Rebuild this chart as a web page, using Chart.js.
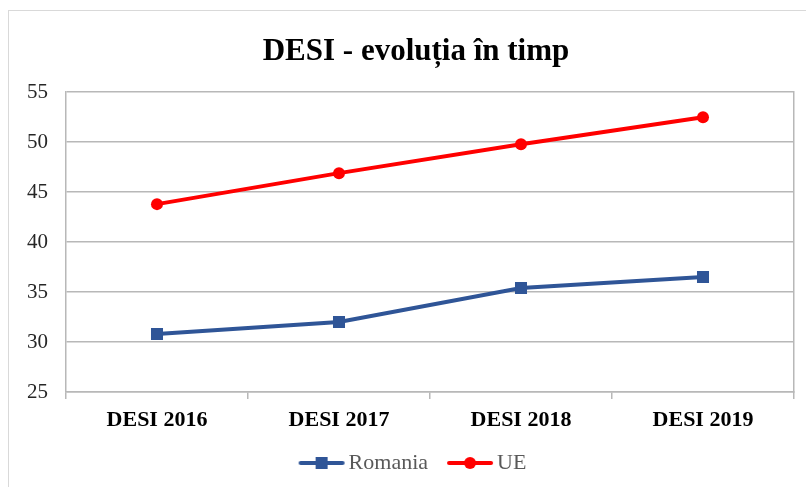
<!DOCTYPE html>
<html>
<head>
<meta charset="utf-8">
<script src="https://cdn.jsdelivr.net/npm/chart.js@4.4.1/dist/chart.umd.min.js"></script>
<style>
  html, body { margin: 0; padding: 0; background: #fff; overflow: hidden; }
  #wrap { position: absolute; left: 0; top: 0; width: 806px; height: 487px; overflow: hidden; }
  #frame { position: absolute; left: 8px; top: 10px; width: 820px; height: 500px; border: 1px solid #d9d9d9; box-sizing: border-box; }
  canvas { position: absolute; left: 0; top: 0; }
</style>
</head>
<body>
<div id="wrap">
  <div id="frame"></div>
  <!-- the chart object runs a little past the right edge of the picture -->
  <canvas id="desiChart" width="840" height="487"></canvas>
</div>
<script>
var categories = ['DESI 2016', 'DESI 2017', 'DESI 2018', 'DESI 2019'];
var romaniaValues = [30.8, 32.0, 35.4, 36.5];
var ueValues = [43.8, 46.9, 49.8, 52.5];
var yTicks = [25, 30, 35, 40, 45, 50, 55];

var blue = '#2F5597';
var red = '#FF0000';
var gridColor = '#b8b8b8';

// legend symbols: line with the marker in the middle
function legendSymbol(color, shape) {
    var c = document.createElement('canvas');
    c.width = 48;
    c.height = 14;
    var g = c.getContext('2d');
    g.strokeStyle = color;
    g.lineWidth = 4;
    g.lineCap = 'round';
    g.beginPath();
    g.moveTo(3, 7);
    g.lineTo(45, 7);
    g.stroke();
    g.fillStyle = color;
    if (shape === 'rect') {
        g.fillRect(18, 1, 12, 12);
    } else {
        g.beginPath();
        g.arc(24, 7, 6, 0, Math.PI * 2);
        g.fill();
    }
    return c;
}

var symbols = [legendSymbol(blue, 'rect'), legendSymbol(red, 'circle')];

var ctx = document.getElementById('desiChart').getContext('2d');
var chart = new Chart(ctx, {
    type: 'line',
    data: {
        labels: categories,
        datasets: [{
            label: 'Romania',
            data: romaniaValues,
            borderColor: blue,
            backgroundColor: blue,
            borderWidth: 4,
            pointStyle: 'rect',
            pointRadius: 8.5,
            pointHoverRadius: 8.5,
            pointBorderWidth: 0,
            tension: 0
        }, {
            label: 'UE',
            data: ueValues,
            borderColor: red,
            backgroundColor: red,
            borderWidth: 4,
            pointStyle: 'circle',
            pointRadius: 6,
            pointHoverRadius: 6,
            pointBorderWidth: 0,
            tension: 0
        }]
    },
    options: {
        responsive: false,
        animation: false,
        layout: {
            padding: { left: 8, right: 16, top: 10, bottom: 3 }
        },
        plugins: {
            title: {
                display: true,
                text: 'DESI - evoluția în timp',
                color: '#000',
                font: { family: 'Liberation Serif', size: 31, weight: 'bold' },
                padding: { top: 23, bottom: 22 }
            },
            legend: {
                position: 'bottom',
                labels: {
                    usePointStyle: true,
                    pointStyleWidth: 32,
                    color: '#595959',
                    font: { family: 'Liberation Serif', size: 22 },
                    padding: 26,
                    generateLabels: function (chart) {
                        return chart.data.datasets.map(function (ds, i) {
                            return {
                                text: ds.label,
                                pointStyle: symbols[i],
                                fillStyle: ds.borderColor,
                                strokeStyle: ds.borderColor,
                                lineWidth: 0,
                                fontColor: '#595959',
                                datasetIndex: i,
                                hidden: false
                            };
                        });
                    }
                }
            },
            tooltip: { enabled: false }
        },
        scales: {
            x: {
                offset: true,
                grid: {
                    offset: true,
                    drawOnChartArea: false,
                    drawTicks: true,
                    tickLength: 7,
                    color: gridColor,
                    lineWidth: 1.5
                },
                border: { display: true, color: gridColor, width: 1.5 },
                ticks: {
                    color: '#000',
                    font: { family: 'Liberation Serif', size: 22, weight: 'bold' },
                    padding: 8
                },
                afterFit: function (scale) { scale.height = 34; }
            },
            y: {
                min: 25,
                max: 55,
                afterBuildTicks: function (scale) {
                    scale.ticks = yTicks.map(function (v) { return { value: v }; });
                },
                grid: {
                    drawTicks: false,
                    color: gridColor,
                    lineWidth: 1.5
                },
                border: { display: true, color: gridColor, width: 1.5 },
                ticks: {
                    color: '#262626',
                    font: { family: 'Liberation Serif', size: 21 },
                    padding: 18
                },
                afterFit: function (scale) { scale.width = 58; }
            },
            y2: {
                position: 'right',
                min: 25,
                max: 55,
                grid: { drawOnChartArea: false, drawTicks: false },
                border: { display: true, color: gridColor, width: 1.5 },
                ticks: { display: false },
                afterFit: function (scale) { scale.width = 30; }
            }
        }
    }
});
</script>
</body>
</html>
